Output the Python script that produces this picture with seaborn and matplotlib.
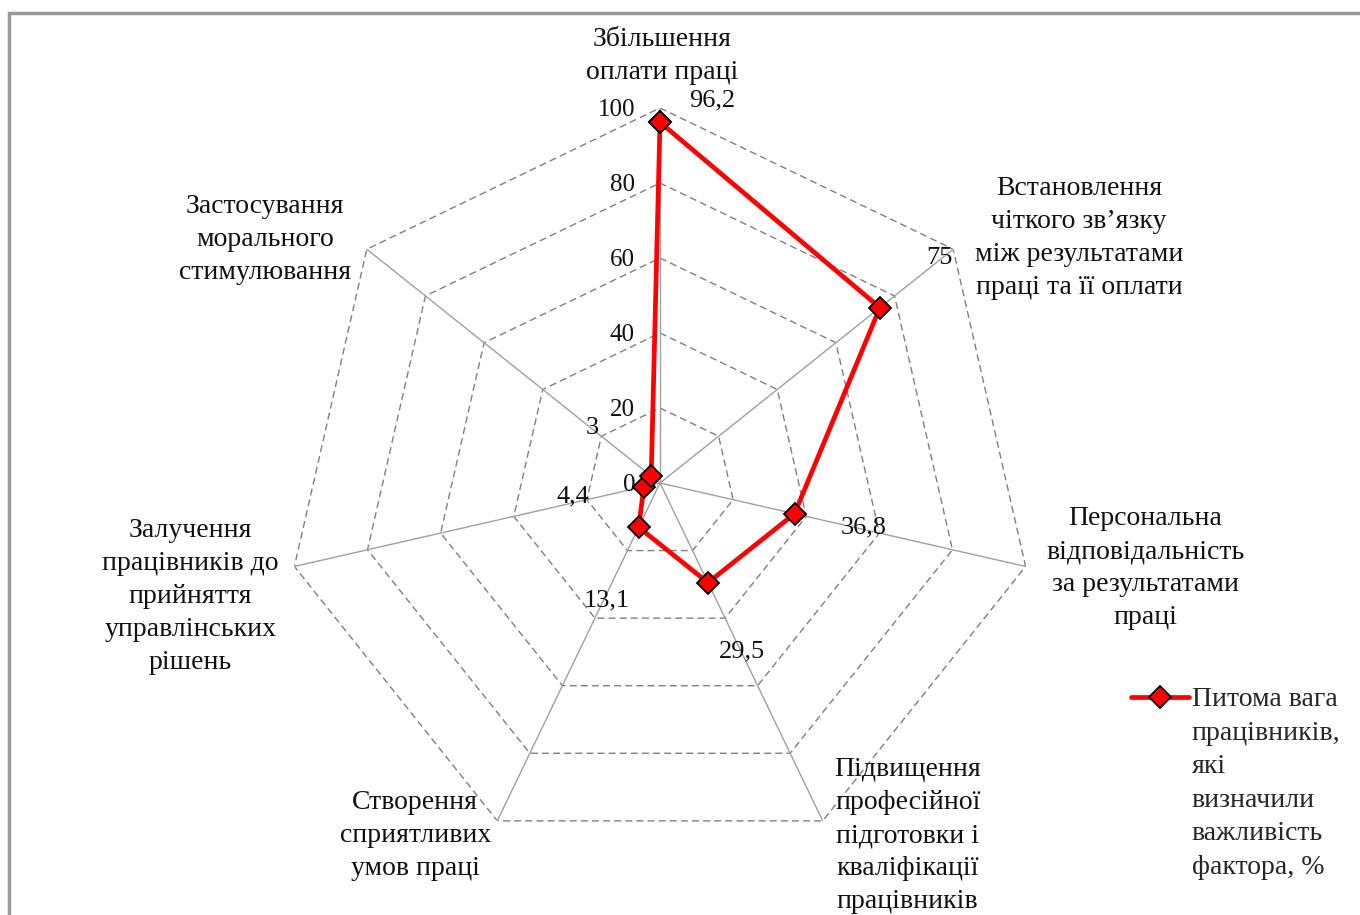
import numpy as np
import matplotlib
matplotlib.use("Agg")
import matplotlib.pyplot as plt
import matplotlib.patches as mpatches
import seaborn as sns
import pandas as pd

sns.set_theme(style="white")
plt.rcParams['font.family'] = ['Liberation Serif', 'DejaVu Serif']

categories = [
    "Збільшення\nоплати праці",
    "Встановлення\nчіткого зв’язку\nміж результатами\nпраці та її оплати",
    "Персональна\nвідповідальність\nза результатами\nпраці",
    "Підвищення\nпрофесійної\nпідготовки і\nкваліфікації\nпрацівників",
    "Створення\nсприятливих\nумов праці",
    "Залучення\nпрацівників до\nприйняття\nуправлінських\nрішень",
    "Застосування\nморального\nстимулювання",
]
values = [96.2, 75, 36.8, 29.5, 13.1, 4.4, 3]
value_labels = ["96,2", "75", "36,8", "29,5", "13,1", "4,4", "3"]
ticks = [0, 20, 40, 60, 80, 100]
series_name = "Питома вага\nпрацівників,\nякі\nвизначили\nважливість\nфактора, %"

# layout (pixel offsets) for labels
cat_offsets = [(2, -52), (126, -11), (120, 2), (85, 15), (-82, 15), (-104, 30), (-102, -10)]
val_offsets = [(52, -22), (60, -50), (69, 14), (34, 69), (-32, 73), (-71, 10), (-59, -48)]

n = len(categories)
angles = np.arange(n) * 2 * np.pi / n
df = pd.DataFrame({"angle": np.append(angles, angles[0]),
                   "value": values + [values[0]]})

fig = plt.figure(figsize=(13.6, 9.15), dpi=100)
W, H = 1360, 915
cx, cy, R = 660, 483, 375
ax = fig.add_axes([(cx - R) / W, (H - cy - R) / H, 2 * R / W, 2 * R / H], projection="polar")
ax.set_theta_offset(np.pi / 2)
ax.set_theta_direction(-1)
ax.set_ylim(0, 100)
ax.grid(False)
ax.spines['polar'].set_visible(False)
ax.set_xticks([])
ax.set_yticks([])
ax.patch.set_alpha(0)

# heptagon rings
ring_ang = np.append(angles, angles[0])
for t in ticks[1:]:
    ax.plot(ring_ang, [t] * len(ring_ang), color="#808080", lw=1.0, ls=(0, (5, 3)), zorder=1)
# spokes
for a in angles:
    ax.plot([a, a], [0, 100], color="#a0a0a0", lw=1.0, zorder=1)

# tick labels
for t in ticks:
    ax.annotate(str(t), (0, t), xytext=(-25, -2), textcoords="offset pixels",
                ha="right", va="center", fontsize=18, color="#111111")

sns.lineplot(data=df, x="angle", y="value", ax=ax, color="#ff0000", lw=3.4,
             marker="D", markersize=11, markerfacecolor="#ff0000",
             markeredgecolor="black", markeredgewidth=1.3, sort=False,
             estimator=None, label=series_name, zorder=5)
ax.set_xlabel("")
ax.set_ylabel("")

for a, v, lab, (dx, dy) in zip(angles, values, value_labels, val_offsets):
    ax.annotate(lab, (a, v), xytext=(dx, -dy), textcoords="offset pixels",
                ha="center", va="center", fontsize=19, color="#111111")

for a, lab, (dx, dy) in zip(angles, categories, cat_offsets):
    ax.annotate(lab, (a, 100), xytext=(dx, -dy), textcoords="offset pixels",
                ha="center", va="center", fontsize=20, color="#111111",
                linespacing=1.42, annotation_clip=False)

handles, labels = ax.get_legend_handles_labels()
if ax.legend_:
    ax.legend_.remove()
leg = fig.legend(handles, labels, loc="upper left", bbox_to_anchor=(1106 / W, 1 - 662 / H),
                 frameon=False, fontsize=20, handlelength=2.1, handletextpad=0.08,
                 labelspacing=0.2)
for txt in leg.get_texts():
    txt.set_linespacing(1.45)
for col in leg._legend_handle_box.get_children():
    for item in col.get_children():
        item.align = "top"

fig.patches.append(mpatches.Rectangle((9 / W, -0.05), 1.2, 1 - 13 / H + 0.05,
                                      transform=fig.transFigure, fill=False,
                                      edgecolor="#999999", lw=2.5, figure=fig))

fig.savefig("out.png", dpi=100, facecolor="white")
